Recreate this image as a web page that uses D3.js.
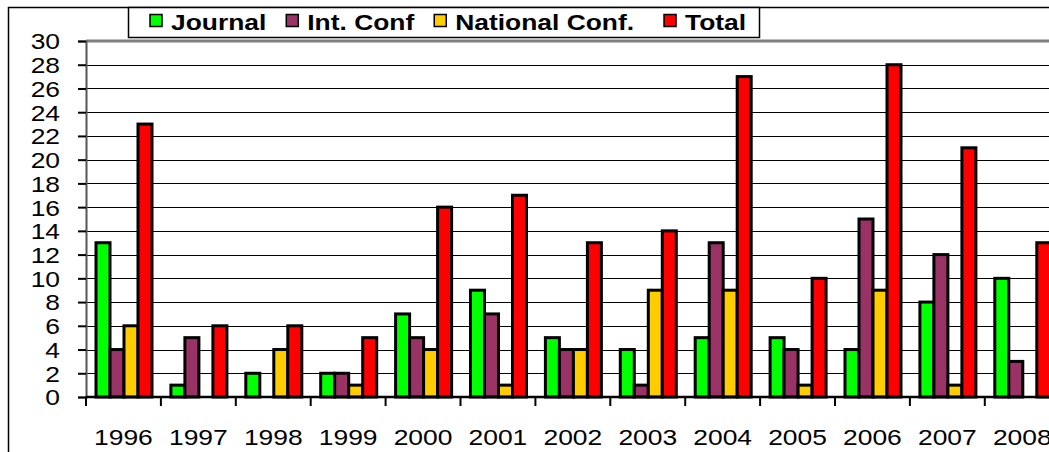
<!DOCTYPE html>
<html>
<head>
<meta charset="utf-8">
<script src="https://cdn.jsdelivr.net/npm/d3@7"></script>
<style>
  body { margin: 0; background: #fff; }
  text { font-family: "Liberation Sans", Arial, sans-serif; }
</style>
</head>
<body>
<div id="chart"></div>
<script>
// data
var years = ["1996", "1997", "1998", "1999", "2000", "2001", "2002", "2003", "2004", "2005", "2006", "2007", "2008"];
var journal  = [13, 1, 2, 2, 7, 9, 5, 4, 5, 5, 4, 8, 10];
var intConf  = [4, 5, 0, 2, 5, 7, 4, 1, 13, 4, 15, 12, 3];
var natConf  = [6, 0, 4, 1, 4, 1, 4, 9, 9, 1, 9, 1, 0];
var total    = [23, 6, 6, 5, 16, 17, 13, 14, 27, 10, 28, 21, 13];
var seriesNames = ["Journal", "Int. Conf", "National Conf.", "Total"];
var colors = ["#00ff00", "#993366", "#ffcc00", "#ff0000"];
var yTicks = [0, 2, 4, 6, 8, 10, 12, 14, 16, 18, 20, 22, 24, 26, 28, 30];

var w = 1049, h = 452;
var padLeft = 86, padTop = 41, padBottom = 397;
var bandW = 74.9;
var stretch = 1.2; // the original picture is stretched sideways

var seriesData = [journal, intConf, natConf, total];

var svg = d3.select("#chart").append("svg")
    .attr("width", w)
    .attr("height", h);

// outer border (right side cut off)
svg.append("path")
    .attr("d", "M8.5," + h + "V7.5H" + w)
    .attr("fill", "none")
    .attr("stroke", "#000")
    .attr("stroke-width", 1.5);

//scales
var xScale = d3.scaleBand()
    .domain(years)
    .range([padLeft, padLeft + bandW * years.length])
    .paddingInner(0);

var xInner = d3.scaleBand()
    .domain(d3.range(seriesNames.length))
    .range([10, 66]);

var yScale = d3.scaleLinear()
    .domain([0, 30])
    .range([padBottom, padTop]);

// gridlines
svg.append("g")
    .selectAll("line")
    .data(yTicks.filter(function(d) { return d > 0 && d < 30; }))
    .enter()
    .append("line")
    .attr("x1", padLeft)
    .attr("x2", w)
    .attr("y1", function(d) { return Math.round(yScale(d)) + 0.5; })
    .attr("y2", function(d) { return Math.round(yScale(d)) + 0.5; })
    .attr("stroke", "#000")
    .attr("stroke-width", 1.2);

// plot area top border
svg.append("line")
    .attr("x1", padLeft).attr("x2", w)
    .attr("y1", yScale(30)).attr("y2", yScale(30))
    .attr("stroke", "#808080")
    .attr("stroke-width", 3);

// y axis
var yAxis = d3.axisLeft(yScale)
    .tickValues(yTicks)
    .tickSize(8)
    .tickFormat(d3.format("d"));

var gy = svg.append("g")
    .attr("transform", "translate(" + padLeft + ",0)")
    .call(yAxis);
gy.select(".domain").attr("stroke", "#555").attr("stroke-width", 2);
gy.selectAll(".tick line").attr("stroke", "#000").attr("stroke-width", 2);
gy.selectAll(".tick text")
    .attr("x", 0)
    .attr("dy", "0.36em")
    .attr("transform", "translate(-26,0) scale(" + stretch + ",1)")
    .attr("font-size", "22px")
    .attr("fill", "#000")
    .attr("font-family", "'Liberation Sans', Arial, sans-serif");

// bars
var groups = svg.append("g")
    .selectAll("g")
    .data(years)
    .enter()
    .append("g")
    .attr("transform", function(d) { return "translate(" + xScale(d) + ",0)"; });

groups.selectAll("rect")
    .data(function(d, i) {
        return seriesData.map(function(s, k) { return { k: k, v: s[i] }; })
            .filter(function(e) { return e.v > 0; });
    })
    .enter()
    .append("rect")
    .attr("x", function(d) { return xInner(d.k); })
    .attr("y", function(d) { return yScale(d.v); })
    .attr("width", xInner.bandwidth())
    .attr("height", function(d) { return padBottom - yScale(d.v); })
    .attr("fill", function(d) { return colors[d.k]; })
    .attr("stroke", "#000")
    .attr("stroke-width", 3);

// x axis line
svg.append("line")
    .attr("x1", padLeft).attr("x2", w)
    .attr("y1", padBottom).attr("y2", padBottom)
    .attr("stroke", "#000")
    .attr("stroke-width", 2.5);

// x ticks at category boundaries
svg.append("g")
    .selectAll("line")
    .data(years)
    .enter()
    .append("line")
    .attr("x1", function(d) { return xScale(d); })
    .attr("x2", function(d) { return xScale(d); })
    .attr("y1", padBottom)
    .attr("y2", padBottom + 9)
    .attr("stroke", "#000")
    .attr("stroke-width", 2);

// x labels
var xAxis = d3.axisBottom(xScale).tickSize(0).tickPadding(0);
var gx = svg.append("g")
    .attr("transform", "translate(0," + padBottom + ")")
    .call(xAxis);
gx.select(".domain").remove();
gx.selectAll(".tick text")
    .attr("y", 0)
    .attr("dy", 0)
    .attr("transform", "translate(0,48) scale(" + stretch + ",1)")
    .attr("font-size", "22px")
    .attr("fill", "#000")
    .attr("font-family", "'Liberation Sans', Arial, sans-serif");

// legend
var legend = svg.append("g");
legend.append("rect")
    .attr("x", 128.5).attr("y", 7.5)
    .attr("width", 631).attr("height", 30)
    .attr("fill", "#fff")
    .attr("stroke", "#000")
    .attr("stroke-width", 1.5);

var lx = 150;
seriesNames.forEach(function(name, k) {
    legend.append("rect")
        .attr("x", lx).attr("y", 14.5)
        .attr("width", 12).attr("height", 12)
        .attr("fill", colors[k])
        .attr("stroke", "#000")
        .attr("stroke-width", 1.5);
    var t = legend.append("text")
        .attr("transform", "translate(" + (lx + 21) + ",30) scale(" + stretch + ",1)")
        .attr("font-size", "22px")
        .attr("font-weight", "bold")
        .text(name);
    lx += 21 + t.node().getComputedTextLength() * stretch + (k == 2 ? 30 : 20);
});
</script>
</body>
</html>
